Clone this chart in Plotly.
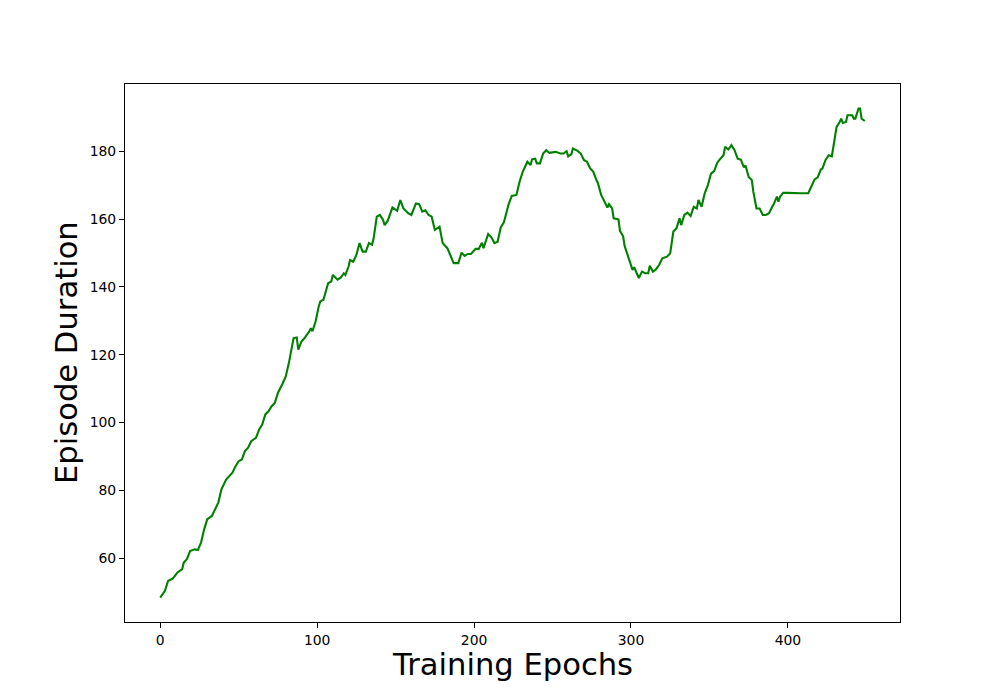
import plotly.graph_objects as go

epochs = [0, 3, 5, 8, 11, 14, 15, 17, 19, 22, 24, 26, 28, 30, 33, 35, 37, 39, 42, 44,
          46, 48, 50, 52, 54, 56, 58, 61, 63, 65, 67, 69, 71, 73, 75, 78, 80, 82, 83, 85,
          87, 88, 90, 92, 95, 96, 97, 99, 101, 102, 104, 105, 107, 109, 110, 113, 115, 117, 118, 120,
          121, 123, 125, 127, 129, 131, 133, 135, 136, 138, 140, 142, 143, 145, 146, 148, 151, 153, 155, 158,
          160, 163, 165, 167, 169, 171, 173, 175, 178, 180, 183, 185, 187, 190, 192, 194, 196, 198, 201, 203,
          205, 206, 209, 211, 213, 215, 217, 219, 222, 224, 227, 229, 231, 234, 236, 237, 239, 240, 242, 244,
          246, 248, 252, 255, 257, 259, 260, 262, 263, 266, 268, 270, 272, 274, 276, 278, 279, 281, 283, 285,
          286, 288, 289, 292, 293, 295, 296, 298, 300, 301, 302, 305, 307, 309, 311, 312, 314, 316, 318, 320,
          323, 325, 327, 329, 331, 332, 334, 336, 338, 340, 342, 343, 345, 347, 349, 351, 353, 355, 357, 359,
          360, 362, 364, 366, 368, 370, 372, 373, 375, 377, 378, 380, 382, 384, 386, 388, 390, 391, 393, 394,
          395, 397, 400, 403, 408, 413, 415, 417, 419, 421, 422, 424, 426, 428, 429, 431, 433, 434, 435, 437,
          438, 441, 442, 443, 445, 446, 447, 449]

durations = [48.4, 50.4, 53.3, 54.0, 55.8, 56.8, 58.7, 59.7, 62.1, 62.6, 62.4, 64.6, 68.5, 71.5, 72.5, 74.4, 76.4, 80.3, 83.2, 84.2,
             85.2, 87.1, 88.6, 89.1, 91.6, 92.6, 94.5, 95.5, 97.9, 99.4, 102.4, 103.3, 104.8, 105.8, 108.7, 111.5, 113.6, 117.6, 120.5, 124.9,
             125.1, 121.5, 123.9, 124.9, 126.9, 127.8, 126.9, 129.8, 134.2, 135.7, 136.2, 138.1, 141.1, 141.6, 143.5, 142.1, 142.7, 144.0, 143.5, 146.0,
             147.9, 147.4, 149.4, 152.9, 150.4, 150.4, 152.9, 152.4, 154.3, 160.7, 161.2, 159.7, 158.2, 159.5, 160.9, 163.4, 162.4, 165.6, 163.1, 161.7,
             161.2, 164.6, 164.4, 162.2, 162.6, 161.2, 160.7, 156.8, 157.7, 152.9, 151.4, 149.4, 147.0, 147.0, 150.1, 149.1, 149.7, 149.7, 151.2, 151.2,
             153.0, 151.4, 155.6, 154.6, 152.9, 153.3, 157.5, 159.0, 164.3, 166.8, 167.1, 171.0, 173.9, 176.9, 175.9, 177.6, 177.8, 176.4, 176.4, 179.3,
             180.3, 179.5, 179.8, 179.3, 179.3, 180.0, 178.5, 179.1, 180.8, 180.1, 179.3, 177.4, 176.9, 174.9, 173.9, 171.5, 170.5, 167.1, 165.1, 163.4,
             164.4, 163.1, 160.2, 159.9, 156.5, 154.9, 152.0, 149.0, 146.0, 145.0, 145.8, 142.6, 144.5, 144.0, 144.0, 146.2, 144.5, 145.2, 146.5, 148.4,
             148.9, 149.9, 156.3, 157.3, 160.2, 158.2, 161.2, 161.9, 160.9, 163.6, 163.1, 165.6, 163.6, 167.6, 170.0, 173.4, 174.1, 176.6, 177.8, 178.8,
             181.3, 180.5, 181.8, 180.3, 177.8, 177.5, 175.2, 175.8, 172.4, 171.5, 168.0, 163.1, 163.1, 161.2, 161.2, 161.7, 163.6, 164.4, 166.6, 165.1,
             166.6, 167.7, 167.7, 167.6, 167.6, 167.6, 169.5, 171.7, 172.3, 174.6, 174.9, 177.4, 178.8, 178.5, 181.3, 187.1, 188.6, 189.6, 188.3, 188.6,
             190.6, 190.6, 189.6, 189.6, 192.6, 192.6, 189.6, 188.9]

x_ticks = [0, 100, 200, 300, 400]
y_ticks = [60, 80, 100, 120, 140, 160, 180]

x_label = "Training Epochs"
y_label = "Episode Duration"

# matplotlib-style 5% margins
xpad = (max(epochs) - min(epochs)) * 0.05
ypad = (max(durations) - min(durations)) * 0.05
x_range = [min(epochs) - xpad, max(epochs) + xpad]
y_range = [min(durations) - ypad, max(durations) + ypad]

FONT = "DejaVu Sans"

fig = go.Figure()
fig.add_trace(go.Scatter(
    x=epochs, y=durations, mode="lines",
    line=dict(color="#008000", width=2.1),
    showlegend=False,
))

axis_common = dict(
    showgrid=False, zeroline=False,
    showline=True, linecolor="black", linewidth=1.1, mirror=True,
    ticks="outside", ticklen=5, tickwidth=1.1, tickcolor="black",
    tickfont=dict(family=FONT, size=13.9, color="black"),
)

fig.update_layout(
    width=1000, height=700,
    margin=dict(l=117, r=108, t=76, b=86),
    paper_bgcolor="white", plot_bgcolor="white",
    font=dict(family=FONT, color="black"),
    xaxis=dict(range=x_range, tickvals=x_ticks, ticktext=[str(v) for v in x_ticks], **axis_common),
    yaxis=dict(range=y_range, tickvals=y_ticks, ticktext=[str(v) for v in y_ticks], **axis_common),
    annotations=[
        dict(text=x_label, xref="paper", yref="paper", x=0.5, y=0,
             xanchor="center", yanchor="middle", yshift=-42, showarrow=False,
             font=dict(family=FONT, size=30.6, color="black")),
        dict(text=y_label, xref="paper", yref="paper", x=0, y=0.5,
             xanchor="center", yanchor="middle", xshift=-59, textangle=-90, showarrow=False,
             font=dict(family=FONT, size=30.6, color="black")),
    ],
)

fig.write_html("out.html")
